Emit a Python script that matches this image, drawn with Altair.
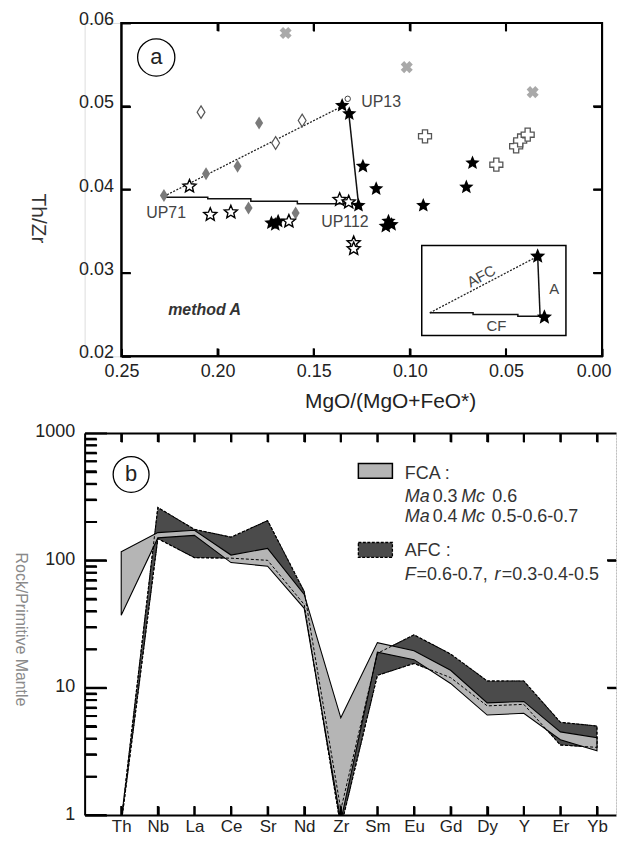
import math
import altair as alt
import pandas as pd

FONT = "Liberation Sans"
INK = "#000000"

# ---------------- panel (a) data ----------------
grayx_x = [0.1646, 0.1016, 0.0361]
grayx_y = [0.0588, 0.0547, 0.0517]
opencross_x = [0.0921, 0.0550, 0.0447, 0.0426, 0.0387]
opencross_y = [0.0464, 0.0430, 0.0452, 0.0459, 0.0466]
opendiam_x = [0.2086, 0.1698, 0.1560]
opendiam_y = [0.0493, 0.0456, 0.0483]
graydiam_x = [0.2279, 0.2060, 0.1896, 0.1784, 0.1839, 0.1594]
graydiam_y = [0.0393, 0.0419, 0.0428, 0.0480, 0.0378, 0.0372]
openstar_x = [0.2146, 0.2038, 0.1931, 0.1629, 0.1365, 0.1318, 0.1292, 0.1292]
openstar_y = [0.0404, 0.0370, 0.0373, 0.0362, 0.0388, 0.0385, 0.0336, 0.0329]
blackstar_x = [0.1352, 0.1315, 0.1244, 0.1175, 0.1267, 0.1111, 0.1095, 0.1125,
               0.0930, 0.0706, 0.0674, 0.1720, 0.1685, 0.1700]
blackstar_y = [0.0501, 0.0491, 0.0428, 0.0401, 0.0381, 0.0362, 0.0358, 0.0356,
               0.0381, 0.0403, 0.0432, 0.0360, 0.0362, 0.0358]
up13_x = [0.1323]
up13_y = [0.0509]

afc_x = [0.2279, 0.1335]
afc_y = [0.0392, 0.0502]
cf_x = [0.2279, 0.2051, 0.2051, 0.1827, 0.1827, 0.1585, 0.1585, 0.1267]
cf_y = [0.0391, 0.0391, 0.0389, 0.0389, 0.0386, 0.0386, 0.0383, 0.0383]
a_x = [0.1267, 0.1320]
a_y = [0.0383, 0.0497]

inset_box_x = [0.0938, 0.0188]
inset_box_y = [0.0225, 0.0333]
inset_afc_x = [0.0896, 0.0335]
inset_afc_y = [0.02522, 0.0320]
inset_cf_x = [0.0896, 0.0671, 0.0671, 0.0438, 0.0438, 0.0291]
inset_cf_y = [0.02522, 0.02522, 0.02502, 0.02502, 0.02481, 0.02481]
inset_a_x = [0.0335, 0.0322]
inset_a_y = [0.0320, 0.0246]
inset_star_x = [0.0335, 0.0300]
inset_star_y = [0.0320, 0.0247]

xticks1 = [0.25, 0.20, 0.15, 0.10, 0.05, 0.00]
yticks1 = [0.02, 0.03, 0.04, 0.05, 0.06]
xinner1 = [0.20, 0.15, 0.10, 0.05]
yinner1 = [0.03, 0.04, 0.05]

# ---------------- panel (b) data ----------------
cats = ["Th", "Nb", "La", "Ce", "Sr", "Nd", "Zr", "Sm", "Eu", "Gd", "Dy", "Y", "Er", "Yb"]
fca_hi = [117, 165, 172, 110, 124, 54, 5.8, 22.6, 19.5, 13.7, 7.6, 7.8, 4.5, 4.05]
fca_lo = [37, 150, 157, 96, 90, 42, 0.9, 19.0, 16.6, 10.8, 6.1, 6.3, 3.9, 3.2]
afc_hi = [0.9, 260, 175, 152, 205, 57, 1.1, 18.6, 26.0, 18.4, 11.3, 11.3, 5.35, 5.0]
afc_lo = [0.85, 148, 105, 104, 100, 45, 0.8, 12.5, 15.5, 12.0, 7.2, 7.4, 3.55, 3.4]

yticks2 = [1, 10, 100, 1000]
minor2 = [m * d for d in (1, 10, 100) for m in range(2, 10)]

# ---------------- geometry ----------------
X1MIN, X1MAX = 0.0, 0.26915          # plot area reaches left past 0.25 (axis sits at 0.25)
W1, H1 = 520, 335
X2MIN, X2MAX = -1.0, 13.52
W2, H2 = 534, 384
PX1 = W1 / (X1MAX - X1MIN)           # px per x unit, panel a
PY1 = H1 / 0.04
PX2 = W2 / (X2MAX - X2MIN)
PDEC2 = H2 / 3.0                     # px per decade, panel b
AX1 = (X1MAX - 0.25) * PX1           # distance of the Th/Zr axis from the panel's left edge


def inward(px):
    """negative tick length (ticks drawn into the plot), given as an expression."""
    return alt.ExprRef(expr=str(-px))


TK = dict(ticks=True, tickColor=INK, tickWidth=2, grid=False, zindex=2)

xs1 = alt.Scale(domain=[X1MIN, X1MAX], reverse=True, nice=False, zero=False)
ys1 = alt.Scale(domain=[0.02, 0.06], nice=False, zero=False)
xaxis1 = alt.Axis(orient="bottom", values=xticks1, format=".2f", tickSize=inward(8), domain=False,
                  labelFontSize=18, labelPadding=14, labelFlush=True, labelFlushOffset=9,
                  labelColor="#222",
                  title="MgO/(MgO+FeO*)", titleFontSize=21, titleFontWeight="normal",
                  titleColor="#222", titleBaseline="middle", titleAlign="center",
                  titleX=307, titleY=45, **TK)
yaxis1 = alt.Axis(orient="left", values=yticks1, format=".2f", tickSize=inward(9), domain=False,
                  offset=-AX1,
                  labelFontSize=18, labelPadding=17, labelFlush=False, labelColor="#222",
                  labelOffset=-3.5,
                  title="Th/Zr", titleFontSize=21, titleFontWeight="normal",
                  titleColor="#333", titleAngle=90, titleBaseline="middle", titleAlign="center",
                  titleY=196, titleX=-84, **TK)
xaxis1_top = alt.Axis(orient="top", values=xinner1, tickSize=inward(8), labels=False,
                      domain=False, title=None, **TK)
yaxis1_right = alt.Axis(orient="right", values=yinner1, tickSize=inward(9), labels=False,
                        domain=False, title=None, **TK)


def X1(f, axis=None):
    return alt.X(f, type="quantitative", scale=xs1, axis=axis)


def Y1(f, axis=None):
    return alt.Y(f, type="quantitative", scale=ys1, axis=axis)


def df(xs, ys):
    return pd.DataFrame({"x": xs, "y": ys, "k": list(range(len(xs)))})


def star_path(ro=1.0, ri=0.45):
    pts = []
    for k in range(10):
        r = ro if k % 2 == 0 else ri
        a = math.radians(-90 + 36 * k)
        pts.append((r * math.cos(a), r * math.sin(a)))
    return "M" + "L".join(f"{x:.4f},{y:.4f}" for x, y in pts) + "Z"


STAR = star_path()
DIAMOND = "M0,-1L0.62,0L0,1L-0.62,0Z"


def points(xs, ys, **kw):
    return alt.Chart(df(xs, ys)).mark_point(opacity=1, **kw).encode(x=X1("x"), y=Y1("y"))


def path_line(xs, ys, **kw):
    return alt.Chart(df(xs, ys)).mark_line(**kw).encode(
        x=X1("x"), y=Y1("y"), order=alt.Order("k:Q"))


def label(x, y, text, **kw):
    base = dict(font=FONT, fontSize=16, color="#444", align="left", baseline="middle")
    base.update(kw)
    return alt.Chart(pd.DataFrame({"x": [x], "y": [y]})).mark_text(text=text, **base).encode(
        x=X1("x"), y=Y1("y"))


def rect_frame(rows):
    return pd.DataFrame(rows, columns=["x", "x2", "y", "y2"])


# thin filled rectangles as inward tick marks (width 2 px)
hw1 = 1.0 / PX1
hh1 = 1.0 / PY1
tk1_rows = ([(v - hw1, v + hw1, 0.06, 0.06 - 8 / PY1) for v in xinner1] +
            [(v - hw1, v + hw1, 0.02, 0.02 + 8 / PY1) for v in xinner1] +
            [(0.25, 0.25 - 9 / PX1, v - hh1, v + hh1) for v in yinner1] +
            [(0.0, 9 / PX1, v - hh1, v + hh1) for v in yinner1])
ticks1 = alt.Chart(rect_frame(tk1_rows)).mark_rect(fill=INK, opacity=1).encode(
    x=X1("x"), x2="x2", y=Y1("y"), y2="y2")

frame_df1 = pd.DataFrame({"x": [0.25], "x2": [0.0], "y": [0.02], "y2": [0.06]})
frame1 = alt.Chart(frame_df1).mark_rect(fill=None, stroke=INK, strokeWidth=2).encode(
    x=X1("x", xaxis1), x2="x2", y=Y1("y", yaxis1), y2="y2")
frame1b = alt.Chart(frame_df1).mark_rect(fill=None, stroke=INK, strokeWidth=2).encode(
    x=X1("x", xaxis1_top), x2="x2", y=Y1("y", yaxis1_right), y2="y2")

inset_box = alt.Chart(pd.DataFrame({"x": [inset_box_x[0]], "x2": [inset_box_x[1]],
                                    "y": [inset_box_y[0]], "y2": [inset_box_y[1]]})).mark_rect(
    fill="white", stroke=INK, strokeWidth=1.5).encode(
    x=X1("x"), x2="x2", y=Y1("y"), y2="y2")

circle_a = alt.Chart(pd.DataFrame({"x": [0.2319], "y": [0.05586]})).mark_point(
    shape="circle", size=1400, stroke=INK, strokeWidth=1.3, filled=False, opacity=1).encode(
    x=X1("x"), y=Y1("y"))

panel_a = alt.layer(
    frame1,
    inset_box,
    path_line(afc_x, afc_y, color="#222", strokeWidth=1.3, strokeDash=[2, 1.5]),
    path_line(cf_x, cf_y, color="#111", strokeWidth=1.5),
    path_line(a_x, a_y, color="#111", strokeWidth=1.5),
    path_line(inset_afc_x, inset_afc_y, color="#222", strokeWidth=1.3, strokeDash=[2, 1.5]),
    path_line(inset_cf_x, inset_cf_y, color="#111", strokeWidth=1.5),
    path_line(inset_a_x, inset_a_y, color="#111", strokeWidth=1.5),
    points(grayx_x, grayx_y, shape="cross", angle=45, size=150, filled=True, fill="#a9a9a9", strokeWidth=0),
    points(opencross_x, opencross_y, shape="cross", size=170, filled=True, fill="white",
           stroke="#555", strokeWidth=1.3),
    points(opendiam_x, opendiam_y, shape=DIAMOND, size=160, filled=True, fill="white",
           stroke="#555", strokeWidth=1.2),
    points(graydiam_x, graydiam_y, shape=DIAMOND, size=170, filled=True, fill="#7a7a7a", strokeWidth=0),
    points(openstar_x, openstar_y, shape=STAR, size=190, filled=True, fill="white",
           stroke=INK, strokeWidth=1.4),
    points(blackstar_x, blackstar_y, shape=STAR, size=230, filled=True, fill=INK, strokeWidth=0),
    points(up13_x, up13_y, shape="circle", size=30, filled=True, fill="white", stroke="#444", strokeWidth=1),
    points(inset_star_x, inset_star_y, shape=STAR, size=260, filled=True, fill=INK, strokeWidth=0),
    label(0.1253, 0.0505, "UP13"),
    label(0.2371, 0.03723, "UP71"),
    label(0.1461, 0.03616, "UP112"),
    label(0.2257, 0.02561, "method A", fontStyle="italic", fontWeight="bold", color="#333", fontSize=16),
    label(0.0628, 0.0296, "AFC", align="center", angle=332, fontSize=15),
    label(0.0249, 0.0281, "A", align="center", fontSize=15),
    label(0.0550, 0.0236, "CF", align="center", fontSize=15),
    circle_a,
    label(0.2319, 0.05586, "a", align="center", fontSize=22, color="#222"),
    ticks1,
    frame1b,
).resolve_axis(x="independent", y="independent").properties(width=W1, height=H1)

# ---------------- panel (b) ----------------
xs2 = alt.Scale(domain=[X2MIN, X2MAX], nice=False, zero=False)
ys2 = alt.Scale(type="log", domain=[1, 1000], nice=False)
label_expr = "[" + ",".join(f"'{c}'" for c in cats) + "][datum.value]"
xaxis2 = alt.Axis(orient="bottom", values=list(range(len(cats))), labelExpr=label_expr,
                  tickSize=inward(9), domain=True, domainColor=INK, domainWidth=2,
                  labelFontSize=17, labelPadding=13, labelFlush=False, labelColor="#222",
                  title=None, **TK)
xaxis2_top = alt.Axis(orient="top", values=list(range(len(cats))), tickSize=inward(9),
                      labels=False, domain=True, domainColor=INK, domainWidth=2, title=None, **TK)
yaxis2 = alt.Axis(orient="left", values=yticks2, format="d", tickSize=inward(22), domain=True,
                  domainColor=INK, domainWidth=2, labelFontSize=18, labelPadding=32,
                  labelColor="#222", labelFlush=False, labelOffset=-1,
                  title="Rock/Primitive Mantle", titleFontSize=16, titleFontWeight="normal",
                  titleColor="#8a8a8a", titleAngle=90, titleBaseline="middle", titleAlign="center",
                  titleY=H2 / 2 + 5, titleX=-64, **TK)
yaxis2_minor = alt.Axis(orient="left", values=minor2, tickSize=inward(12), labels=False,
                        domain=False, title=None, **TK)
yaxis2_right = alt.Axis(orient="right", values=[10, 100], tickSize=inward(9), labels=False,
                        domain=True, domainColor="#b0b0b0", domainWidth=1, domainDash=[1, 2],
                        title=None, **TK)


def X2(f, axis=None):
    return alt.X(f, type="quantitative", scale=xs2, axis=axis)


def Y2(f, axis=None):
    return alt.Y(f, type="quantitative", scale=ys2, axis=axis)


bands = pd.DataFrame({"i": list(range(len(cats))), "cat": cats,
                      "fca_hi": fca_hi, "fca_lo": fca_lo, "afc_hi": afc_hi, "afc_lo": afc_lo})

afc_area = alt.Chart(bands).mark_area(fill="#4b4b4b", stroke=INK, strokeWidth=1.1,
                                      strokeDash=[3, 1.5], clip=True, opacity=1).encode(
    x=X2("i", xaxis2), y=Y2("afc_hi", yaxis2), y2="afc_lo")
fca_area = alt.Chart(bands).mark_area(fill="#b5b5b5", stroke=INK, strokeWidth=1.1,
                                      clip=True, opacity=1).encode(
    x=X2("i", xaxis2_top), y=Y2("fca_hi", yaxis2_minor), y2="fca_lo")
afc_outline = alt.Chart(bands).mark_area(fill=None, stroke=INK, strokeWidth=1.0,
                                         strokeDash=[3, 2], clip=True).encode(
    x=X2("i"), y=Y2("afc_hi", yaxis2_right), y2="afc_lo")


def box2(x, x2, y, y2, **kw):
    return alt.Chart(pd.DataFrame({"x": [x], "x2": [x2], "y": [y], "y2": [y2]})).mark_rect(**kw).encode(
        x=X2("x"), x2="x2", y=Y2("y"), y2="y2")


def text2(x, y, text, **kw):
    base = dict(font=FONT, fontSize=18, color="#333", align="left", baseline="middle")
    base.update(kw)
    return alt.Chart(pd.DataFrame({"x": [x], "y": [y]})).mark_text(text=text, **base).encode(
        x=X2("x"), y=Y2("y"))


it = dict(fontStyle="italic")
legend_b = [
    box2(6.48, 7.41, 440, 575, fill="#b5b5b5", stroke=INK, strokeWidth=1.5),
    box2(6.48, 7.41, 105.5, 138, fill="#4b4b4b", stroke=INK, strokeWidth=1.3, strokeDash=[3, 1.5]),
    text2(7.75, 472, "FCA :"),
    text2(7.75, 315, "Ma", **it), text2(8.51, 315, "0.3"), text2(9.29, 315, "Mc", **it), text2(10.14, 315, "0.6"),
    text2(7.75, 219, "Ma", **it), text2(8.51, 219, "0.4"), text2(9.29, 219, "Mc", **it),
    text2(10.12, 219, "0.5-0.6-0.7"),
    text2(7.75, 117.4, "AFC :"),
    text2(7.75, 76.5, "F", **it), text2(8.07, 76.5, "=0.6-0.7,"), text2(10.2, 76.5, "r", **it),
    text2(10.4, 76.5, "=0.3-0.4-0.5"),
]

circle_b = alt.Chart(pd.DataFrame({"x": [0.27], "y": [472]})).mark_point(
    shape="circle", size=1300, stroke=INK, strokeWidth=1.3, filled=False, opacity=1).encode(
    x=X2("x"), y=Y2("y"))

# thin filled rectangles as inward tick marks, panel b
hw2 = 1.0 / PX2
fy = 10 ** (1.0 / PDEC2)
f9 = 10 ** (9 / PDEC2)
tk2_rows = ([(i - hw2, i + hw2, 1, f9) for i in range(len(cats))] +
            [(i - hw2, i + hw2, 1000, 1000 / f9) for i in range(len(cats))] +
            [(X2MIN, X2MIN + 22 / PX2, v / fy, v * fy) for v in yticks2] +
            [(X2MIN, X2MIN + 12 / PX2, v / fy, v * fy) for v in minor2] +
            [(X2MAX, X2MAX - 9 / PX2, v / fy, v * fy) for v in (10, 100)])
ticks2 = alt.Chart(rect_frame(tk2_rows)).mark_rect(fill=INK, opacity=1, clip=True).encode(
    x=X2("x"), x2="x2", y=Y2("y"), y2="y2")

panel_b = alt.layer(
    afc_area, fca_area, afc_outline,
    *legend_b,
    circle_b,
    text2(0.27, 472, "b", align="center", fontSize=22, color="#222"),
    ticks2,
).resolve_axis(x="independent", y="independent").properties(width=W2, height=H2)

chart = alt.vconcat(panel_a, panel_b, spacing=10).properties(
    padding={"left": 4, "top": 0, "right": 0, "bottom": 0}
).configure_view(stroke=None).configure(font=FONT)

chart.save("out.html", embed_options={"renderer": "svg", "actions": False})
